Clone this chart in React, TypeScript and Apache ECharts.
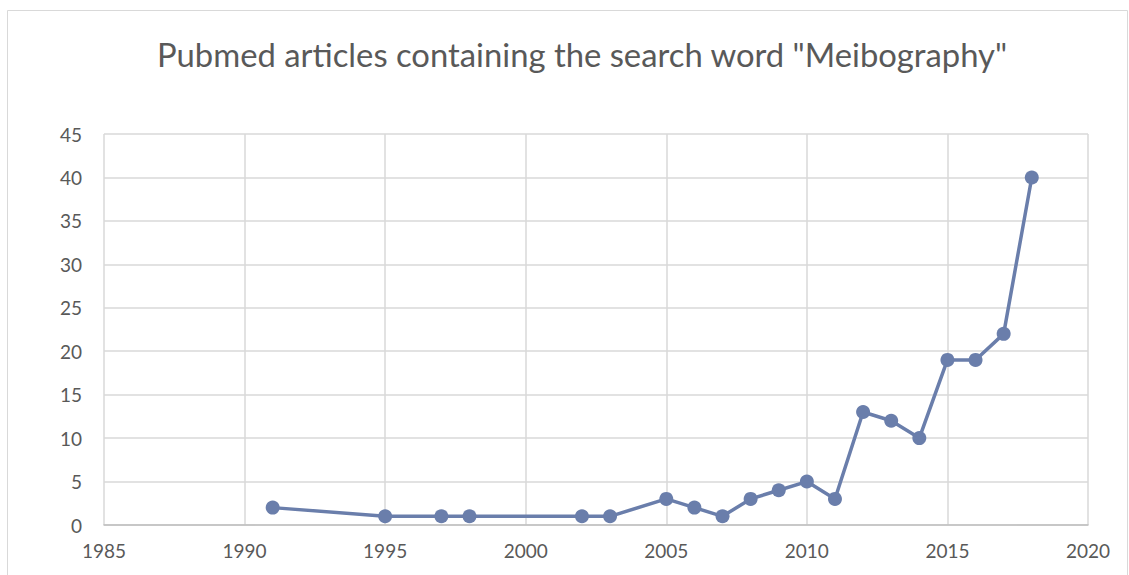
import React, { useEffect, useRef } from "react";
import * as echarts from "echarts";

const years = [1991, 1995, 1997, 1998, 2002, 2003, 2005, 2006, 2007, 2008, 2009, 2010, 2011, 2012, 2013, 2014, 2015, 2016, 2017, 2018];
const counts = [2, 1, 1, 1, 1, 1, 3, 2, 1, 3, 4, 5, 3, 13, 12, 10, 19, 19, 22, 40];
const titleText = 'Pubmed articles containing the search word "Meibography"';

export default function App() {
  const ref = useRef<HTMLDivElement>(null);
  useEffect(() => {
    document.body.style.margin = "0";
    const chart = echarts.init(ref.current!, undefined, { renderer: "svg" });
    const font = "Lato, 'Open Sans', sans-serif";
    chart.setOption({
      animation: false,
      backgroundColor: "#ffffff",
      title: {
        text: titleText,
        left: 152,
        top: 33,
        textStyle: { fontFamily: font, fontSize: 32.8, fontWeight: "normal", color: "#595959" },
      },
      graphic: [
        {
          type: "rect",
          shape: { x: 7.5, y: 10.5, width: 1120, height: 600 },
          style: { fill: "none", stroke: "#d9d9d9", lineWidth: 1 },
          silent: true,
        },
      ],
      grid: { left: 104, right: 41, top: 134, bottom: 50 },
      xAxis: {
        type: "value",
        min: 1985,
        max: 2020,
        interval: 5,
        axisLine: { show: true, lineStyle: { color: "#bfbfbf", width: 1.5 } },
        axisTick: { show: false },
        splitLine: { show: true, lineStyle: { color: "#d9d9d9", width: 1.5 } },
        axisLabel: { fontFamily: font, fontSize: 19, color: "#595959", margin: 16, formatter: (v: number) => String(v) },
      },
      yAxis: {
        type: "value",
        min: 0,
        max: 45,
        interval: 5,
        axisLine: { show: false },
        axisTick: { show: false },
        splitLine: { show: true, lineStyle: { color: "#d9d9d9", width: 1.5 } },
        axisLabel: { fontFamily: font, fontSize: 19, color: "#595959", margin: 22 },
      },
      series: [
        {
          type: "line",
          data: years.map((y, i) => [y, counts[i]]),
          symbol: "circle",
          symbolSize: 14,
          lineStyle: { color: "#6a7eab", width: 3.5 },
          itemStyle: { color: "#6a7eab" },
        },
      ],
    });
    return () => chart.dispose();
  }, []);
  return <div ref={ref} style={{ position: "absolute", left: 0, top: 0, width: 1129, height: 575 }} />;
}
